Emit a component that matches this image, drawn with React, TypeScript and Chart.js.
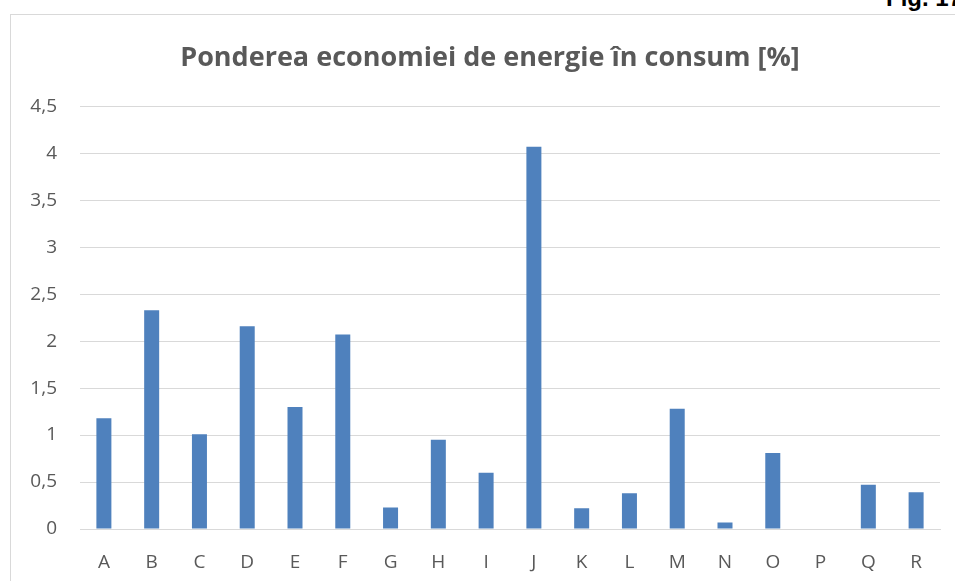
import React, { useEffect, useRef } from "react";
import { Chart, registerables } from "chart.js";

Chart.register(...registerables);

const categories = ["A", "B", "C", "D", "E", "F", "G", "H", "I", "J", "K", "L", "M", "N", "O", "P", "Q", "R"];
const values = [1.18, 2.33, 1.01, 2.16, 1.3, 2.07, 0.23, 0.95, 0.6, 4.07, 0.22, 0.38, 1.28, 0.07, 0.81, 0, 0.47, 0.39];
const titleText = "Ponderea economiei de energie în consum [%]";
const figLabel = "Fig. 17";
const yMax = 4.5;
const yStep = 0.5;

const FONT = "'Open Sans', sans-serif";

export default function App() {
  const ref = useRef<HTMLCanvasElement | null>(null);

  useEffect(() => {
    if (!ref.current) return;
    const chart = new Chart(ref.current, {
      type: "bar",
      data: {
        labels: categories,
        datasets: [
          {
            data: values,
            backgroundColor: "#4f81bd",
            categoryPercentage: 1,
            barPercentage: 0.314,
          },
        ],
      },
      options: {
        animation: false,
        responsive: false,
        layout: { padding: { left: 0, right: 0, top: 0, bottom: 0 } },
        plugins: {
          legend: { display: false },
          tooltip: { enabled: false },
          title: {
            display: true,
            text: titleText,
            color: "#595959",
            font: { family: FONT, size: 27, weight: "bold" },
            padding: { top: 27, bottom: 32 },
          },
        },
        scales: {
          x: {
            grid: { display: false, drawTicks: false },
            border: { display: true, color: "#d9d9d9" },
            ticks: {
              color: "#595959",
              font: { family: FONT, size: 19 },
              padding: 22,
            },
            afterFit: (s: any) => {
              s.height = 66;
            },
          },
          y: {
            min: 0,
            max: yMax,
            grid: { color: "#d9d9d9", lineWidth: 1, drawTicks: false },
            border: { display: false },
            ticks: {
              stepSize: yStep,
              color: "#595959",
              font: { family: FONT, size: 19 },
              padding: 23,
              callback: (v: any) => String(Number(v)).replace(".", ","),
            },
            afterFit: (s: any) => {
              s.width = 69;
            },
          },
          yRight: {
            position: "right",
            min: 0,
            max: yMax,
            grid: { display: false, drawTicks: false },
            border: { display: false },
            ticks: { display: false },
            afterFit: (s: any) => {
              s.width = 29;
            },
          },
        },
      },
    });
    return () => chart.destroy();
  }, []);

  return (
    <div
      style={{
        position: "absolute",
        left: 0,
        top: 0,
        width: 955,
        height: 581,
        overflow: "hidden",
        background: "#fff",
      }}
    >
      <div
        style={{
          position: "absolute",
          left: 886,
          top: -14,
          font: "bold 24px 'Liberation Sans', Arial, sans-serif",
          color: "#000",
          whiteSpace: "nowrap",
          lineHeight: "24px",
        }}
      >
        {figLabel}
      </div>
      <div
        style={{
          position: "absolute",
          left: 10,
          top: 14,
          width: 958,
          height: 600,
          border: "1px solid #d9d9d9",
        }}
      >
        <canvas ref={ref} width={958} height={580} style={{ display: "block" }} />
      </div>
    </div>
  );
}
